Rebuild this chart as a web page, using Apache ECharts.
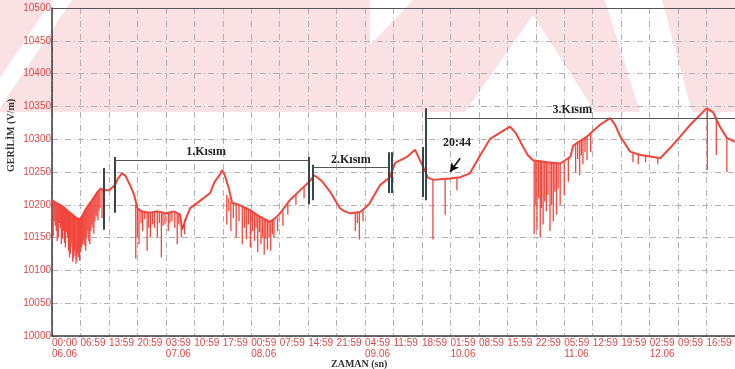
<!DOCTYPE html>
<html><head><meta charset="utf-8">
<script src="https://cdn.jsdelivr.net/npm/echarts@6/dist/echarts.min.js"></script>
<style>html,body{margin:0;padding:0;background:#fff}#c{width:735px;height:369px}</style>
</head><body><div id="c"></div>
<script>
// X axis tick labels (every 7 h starting 06.06 00:00)
const timeLabels = ['00:00','06:59','13:59','20:59','03:59','10:59','17:59','00:59','07:59','14:59','21:59','04:59',
  '11:59','18:59','01:59','08:59','15:59','22:59','05:59','12:59','19:59','02:59','09:59','16:59'];
const dateLabels = ['06.06','','','','07.06','','','08.06','','','','09.06','','','10.06','','','','11.06','','','12.06','',''];

// Main trace: hours since 06.06 00:00 and voltage (V/m)
const baseHours = [0,1,2,3,4,5,6,7,8,9,10,11,12,12.6,14,15.5,16.2,17.2,18,19.2,20.2,21,22,24,26,28,30,31.5,32,33,34,36.4,38.9,40,41.5,41.8,42.5,43.5,44.3,46,48.7,51,53.6,55,56.1,58.5,61,63.3,64.5,65.2,66.4,68.4,70.8,72,73.3,75.8,77,78.2,80.7,83.1,84.4,87.3,89.3,90.5,91.5,92.5,94,95.4,97.9,100.4,102.8,105.3,107.7,110.2,112.7,114,115.9,117,118.3,121.8,125,127.5,128.2,129.5,131.6,134.8,137.3,138.5,139.8,142.2,144.7,147.9,149.6,152.1,154.5,157,159.4,160.5,161.1,162.6,164.3,166,168];
const baseVolts = [10207,10203,10200,10196,10190,10185,10180,10178,10190,10200,10208,10218,10225,10222,10222,10230,10240,10248,10245,10230,10215,10195,10190,10188,10190,10187,10190,10185,10162,10180,10195,10206,10218,10235,10248,10253,10245,10225,10203,10200,10192,10182,10174,10180,10187,10207,10222,10235,10245,10242,10236,10220,10195,10190,10187,10189,10195,10203,10230,10242,10264,10273,10284,10268,10255,10241,10238,10239,10240,10242,10248,10275,10300,10310,10319,10310,10288,10276,10268,10265,10263,10273,10290,10296,10304,10322,10332,10322,10304,10281,10276,10273,10271,10287,10304,10322,10337,10344,10347,10341,10319,10302,10296];

// Downward spikes: hour, level before the spike, lowest value
const spikeHours = [0.3,0.55,0.8,1.05,1.3,1.55,1.8,2.05,2.3,2.55,2.8,3.05,3.3,3.55,3.8,4.05,4.3,4.5,4.7,4.9,5.1,5.3,5.5,5.7,5.9,6.1,6.3,6.55,6.8,7.05,7.3,7.55,7.8,8.05,8.3,8.55,8.8,9.05,9.3,9.55,9.8,10.05,10.3,10.55,10.8,11.05,11.3,11.55,11.8,12.3,
  20.6,21.0,21.4,21.9,22.3,22.8,23.4,23.8,24.2,24.7,25.2,25.9,26.4,26.9,27.3,27.8,28.6,29.0,29.5,30.2,30.8,31.2,31.8,32.6,
  43.0,43.5,44.0,44.6,45.3,46.0,46.8,47.3,47.8,48.3,48.8,49.3,49.8,50.2,50.6,51.0,51.4,51.8,52.2,52.6,53.0,53.4,53.8,54.2,54.6,55.5,56.8,58.0,60.0,62.0,
  74.6,75.1,75.6,76.5,93.7,96.7,99.6,
  118.6,119.0,119.3,119.7,120.1,120.4,120.8,121.2,121.6,122.0,122.5,122.9,123.3,123.7,124.1,124.5,125.0,126.0,127.0,128.8,129.3,129.8,130.2,130.6,131.1,131.6,132.5,
  142.9,144.2,146.0,149.0,161.2,163.4,166.0];
const spikeTops = [10206,10205,10204,10204,10203,10202,10201,10200,10199,10198,10198,10196,10195,10193,10192,10190,10189,10188,10187,10186,10185,10184,10183,10182,10181,10180,10180,10179,10179,10180,10182,10185,10188,10191,10194,10196,10199,10201,10203,10205,10208,10210,10212,10214,10216,10219,10221,10222,10224,10224,
  10200,10195,10192,10191,10190,10190,10189,10189,10188,10188,10189,10190,10190,10189,10189,10188,10188,10188,10189,10189,10188,10187,10170,10178,
  10215,10210,10205,10203,10202,10201,10198,10197,10196,10194,10192,10191,10189,10187,10185,10184,10183,10182,10180,10179,10177,10176,10175,10176,10177,10180,10190,10202,10215,10228,
  10188,10188,10189,10192,10238,10239,10241,
  10268,10268,10267,10267,10266,10266,10266,10266,10265,10265,10265,10265,10264,10264,10264,10264,10263,10265,10270,10293,10295,10296,10298,10300,10302,10304,10309,
  10280,10277,10275,10272,10347,10333,10302];
const spikeLows = [10152,10175,10168,10160,10145,10150,10172,10165,10140,10148,10160,10142,10135,10158,10150,10130,10120,10125,10142,10135,10113,10118,10130,10122,10110,10115,10126,10120,10115,10128,10135,10140,10146,10138,10130,10150,10160,10145,10140,10160,10170,10165,10156,10175,10185,10182,10176,10190,10195,10180,
  10118,10150,10140,10172,10160,10178,10130,10165,10150,10170,10165,10150,10172,10120,10168,10170,10160,10172,10175,10165,10140,10170,10150,10155,
  10170,10190,10160,10180,10150,10175,10140,10165,10148,10170,10135,10160,10145,10165,10128,10158,10140,10150,10124,10148,10132,10150,10130,10155,10150,10160,10168,10185,10200,10210,
  10160,10172,10147,10175,10147,10185,10222,
  10155,10200,10162,10210,10150,10195,10170,10205,10190,10215,10160,10200,10175,10220,10185,10225,10200,10215,10235,10250,10270,10245,10275,10262,10280,10268,10280,
  10265,10262,10265,10262,10253,10276,10250];

// Segment markers (vertical bars)
const markerHours = [12.8,15.5,63.2,64.2,82.9,83.6,91.3,92.0];
const markerTops = [10256,10273,10273,10261,10280,10280,10288,10347];
const markerBottoms = [10162,10188,10201,10207,10218,10218,10212,10207];

// Section brackets
const bracketStart = [15.5,64.2,92.0];
const bracketEnd = [63.2,82.9,168];
const bracketLevel = [10268,10257,10332];
const bracketText = ['1.Kısım','2.Kısım','3.Kısım'];
const bracketTextHour = [37.9,73.5,128];

// Arrow annotation
const arrowFrom = [100.4,10271];
const arrowTo = [97.9,10250];
const arrowText = '20:44';
const arrowTextPos = [99.6,10282];

const RED = '#f0463c';
const LABEL_RED = '#d84a48';
const PINK = '#fae1e4';
const chart = echarts.init(document.getElementById('c'), null, {renderer:'canvas'});

const markLines = [];
markerHours.forEach((h,i)=>markLines.push([
  {coord:[h,markerTops[i]], lineStyle:{color:'#34484a',width:2,type:'solid'}},
  {coord:[h,markerBottoms[i]]}]));
bracketStart.forEach((h,i)=>markLines.push([
  {coord:[h,bracketLevel[i]], lineStyle:{color:'#555',width:1.2,type:'solid'}},
  {coord:[bracketEnd[i],bracketLevel[i]]}]));
markLines.push([{coord:arrowFrom, symbol:'none', lineStyle:{color:'#111',width:1.6,type:'solid'}},{coord:arrowTo, symbol:'arrow', symbolSize:[7,9]}]);

const markPoints = bracketText.map((t,i)=>({coord:[bracketTextHour[i],bracketLevel[i]], value:t}));
markPoints.push({coord:arrowTextPos, value:arrowText});

// scanned-paper watermark (decorative background)
const wm = [
  {type:'rect', shape:{x:0,y:0,width:735,height:112}, style:{fill:PINK}, z:-10, silent:true},
  {type:'polygon', shape:{points:[[0,78],[52,0],[72,0],[0,108]]}, style:{fill:'#fff'}, z:-9, silent:true},
  {type:'polygon', shape:{points:[[370,0],[413,0],[370,45]]}, style:{fill:'#fff'}, z:-9, silent:true},
  {type:'polygon', shape:{points:[[533,15],[465,112],[595,112]]}, style:{fill:'#fff'}, z:-9, silent:true},
  {type:'polygon', shape:{points:[[605,0],[662,0],[692,112],[640,112]]}, style:{fill:'#fff'}, z:-9, silent:true}
];

const option = {
  animation:false,
  backgroundColor:'#ffffff',
  grid:{left:52,right:0,top:8,bottom:33},
  xAxis:[{
    type:'value', min:0, max:168, interval:7,
    axisLine:{show:true,lineStyle:{color:'#3a3a3a',width:1.5}},
    axisTick:{show:false},
    splitLine:{show:true,lineStyle:{color:'#b0b0b0',width:1,type:[6,3,1,3]}},
    axisLabel:{
      showMaxLabel:false, align:'left', margin:1, color:LABEL_RED,
      fontFamily:'Liberation Sans', fontSize:10, lineHeight:11.5,
      formatter:(v)=>{const i=Math.round(v/7); const t=timeLabels[i]||''; const d=dateLabels[i]||''; return d? t+'\n'+d : t;}
    }
  },{
    type:'value', position:'top', min:0, max:168,
    axisLine:{show:true,lineStyle:{color:'#555',width:1.2}},
    axisTick:{show:false}, axisLabel:{show:false}, splitLine:{show:false}
  }],
  yAxis:{
    type:'value', min:10000, max:10500, interval:50,
    axisLine:{show:true,lineStyle:{color:'#3a3a3a',width:1.5}},
    axisTick:{show:false},
    splitLine:{show:true,lineStyle:{color:'#b0b0b0',width:1,type:[6,3,1,3]}},
    axisLabel:{margin:1,color:LABEL_RED,fontFamily:'Liberation Sans',fontSize:10,formatter:(v)=>String(v)}
  },
  graphic:wm.concat([
    {type:'text', rotation:Math.PI/2, x:6, y:172, style:{text:'GERİLİM (V/m)', font:'bold 10px "Liberation Serif"', fill:'#333'}},
    {type:'text', left:331, top:359, style:{text:'ZAMAN (sn)', font:'bold 10px "Liberation Serif"', fill:'#333'}}
  ]),
  series:[
    {
      type:'custom', name:'spikes',
      data: spikeHours.map((h,i)=>[h,spikeTops[i],spikeLows[i]]),
      encode:{x:0,y:[1,2]},
      renderItem:(params,api)=>{
        const a=api.coord([api.value(0),api.value(1)]);
        const b=api.coord([api.value(0),api.value(2)]);
        return {type:'line',shape:{x1:a[0],y1:a[1],x2:b[0],y2:b[1]},style:{stroke:RED,lineWidth:1.3}};
      },
      z:2
    },
    {
      type:'line', name:'Gerilim',
      data: baseHours.map((h,i)=>[h,baseVolts[i]]),
      showSymbol:false, symbol:'none',
      lineStyle:{color:RED,width:2},
      z:3,
      markLine:{silent:true, symbol:['none','none'], label:{show:false}, data:markLines, z:5},
      markPoint:{silent:true, symbol:'circle', symbolSize:0,
        label:{show:true, formatter:(p)=>p.value, position:'top', distance:2, color:'#222', fontFamily:'Liberation Serif', fontWeight:'bold', fontSize:12},
        data:markPoints}
    }
  ]
};
chart.setOption(option);
</script></body></html>
